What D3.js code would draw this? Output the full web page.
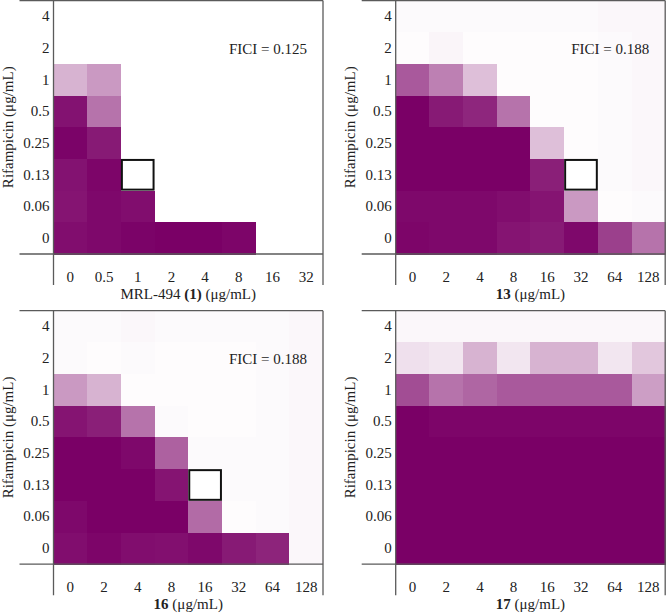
<!DOCTYPE html>
<html><head><meta charset="utf-8">
<script src="https://cdn.jsdelivr.net/npm/d3@7"></script>
<style>
body{margin:0;background:#fff;}
svg{display:block;font-family:"Liberation Serif","Times New Roman",serif;}
</style></head>
<body><svg id="c" width="666" height="614"></svg>
<script>
// Rifampicin concentrations (rows, top to bottom)
const rifLevels = ["4","2","1","0.5","0.25","0.13","0.06","0"];
// Compound concentrations (columns)
const xTicksMRL = ["0","0.5","1","2","4","8","16","32"];
const xTicksOther = ["0","2","4","8","16","32","64","128"];
// Relative growth (0 = none, 1 = full), rows top (4) to bottom (0)
const growthMRL = [
  [0,0,0,0,0,0,0,0],
  [0,0,0,0,0,0,0,0],
  [0.3,0.4,0,0,0,0,0,0],
  [0.93,0.55,0,0,0,0,0,0],
  [0.99,0.9,0,0,0,0,0,0],
  [0.93,0.98,0,0,0,0,0,0],
  [0.92,0.97,0.95,0,0,0,0,0],
  [0.95,0.97,0.99,1,1,0.98,0,0]
];
const growth13 = [
  [0.02,0.02,0.02,0.02,0.02,0.02,0.03,0.03],
  [0.01,0.04,0.01,0.01,0.01,0.01,0.02,0.03],
  [0.65,0.5,0.25,0.01,0.01,0.01,0.02,0.03],
  [1,0.9,0.85,0.55,0.01,0.01,0.02,0.03],
  [1,1,1,1,0.25,0.01,0.02,0.03],
  [1,1,1,1,0.88,0,0.02,0.03],
  [0.97,0.97,0.97,0.95,0.92,0.4,0.01,0.02],
  [0.98,0.97,0.97,0.92,0.9,0.97,0.75,0.55]
];
const growth16 = [
  [0.02,0.02,0.03,0.02,0.02,0.02,0.02,0.03],
  [0.02,0.01,0.02,0.01,0.01,0.01,0.02,0.03],
  [0.4,0.3,0.01,0.01,0.01,0.01,0.02,0.03],
  [0.92,0.88,0.55,0.02,0.01,0.01,0.02,0.03],
  [1,1,0.97,0.62,0.02,0.02,0.02,0.03],
  [1,1,1,0.92,0,0.02,0.02,0.03],
  [0.97,1,1,1,0.58,0.01,0.02,0.03],
  [0.95,0.98,0.95,0.94,0.97,0.9,0.86,0.03]
];
const growth17 = [
  [0.03,0.03,0.03,0.03,0.03,0.03,0.03,0.03],
  [0.12,0.1,0.3,0.1,0.3,0.3,0.1,0.22],
  [0.7,0.55,0.6,0.65,0.65,0.65,0.65,0.38],
  [1,0.98,0.98,0.98,0.98,0.98,0.98,0.98],
  [1,1,1,1,1,1,1,1],
  [1,1,1,1,1,1,1,1],
  [1,1,1,1,1,1,1,1],
  [1,1,1,1,1,1,1,1]
];
const ficiValues = ["0.125","0.188","0.188",null];
const compoundNames = [["MRL-494 ","(1)"," (μg/mL)"],["","13"," (μg/mL)"],["","16"," (μg/mL)"],["","17"," (μg/mL)"]];
const highlightCols = [2,5,4,null]; // highlighted cell column at rifampicin 0.13
const highlightRow = "0.13";

const panels = [
  {grid:growthMRL, ticks:xTicksMRL, left:53.5, top:0.5},
  {grid:growth13, ticks:xTicksOther, left:395.7, top:0.5},
  {grid:growth16, ticks:xTicksOther, left:53.5, top:310.7},
  {grid:growth17, ticks:xTicksOther, left:395.7, top:310.7}
];
const W = 269.5, H = 253.5;
const color = d3.scaleLinear().domain([0,1]).range(["#ffffff","#7a0066"]).interpolate(d3.interpolateRgb);
const svg = d3.select("#c");
const lineColor = "#5a5a5a";

panels.forEach((p,i)=>{
  const g = svg.append("g").attr("transform",`translate(${p.left},${p.top})`);
  const x = d3.scaleBand().domain(p.ticks).range([0,W]);
  const y = d3.scaleBand().domain(rifLevels).range([0,H]);
  const cells = [];
  p.grid.forEach((row,ri)=>row.forEach((v,ci)=>cells.push({r:rifLevels[ri],c:p.ticks[ci],v})));
  g.selectAll("rect.cell").data(cells).join("rect").attr("class","cell")
    .attr("x",d=>x(d.c)).attr("y",d=>y(d.r))
    .attr("width",x.bandwidth()+0.5).attr("height",y.bandwidth()+0.5)
    .attr("fill",d=>color(d.v)).attr("shape-rendering","crispEdges");
  if(highlightCols[i]!==null){
    const c = p.ticks[highlightCols[i]];
    g.append("rect").attr("x",x(c)+1).attr("y",y(highlightRow)+1)
      .attr("width",x.bandwidth()-2).attr("height",y.bandwidth()-2)
      .attr("fill","#fff").attr("stroke","#111").attr("stroke-width",2);
  }
  // frame lines
  const ext = 31, extL = 34;
  const lines = [
    [-extL,0,W,0],          // top
    [-extL,H,W,H],          // x axis
    [0,0,0,H+ext],          // y axis
    [W,0,W,H+ext]           // right
  ];
  g.selectAll("line.frame").data(lines).join("line").attr("class","frame")
    .attr("x1",d=>d[0]).attr("y1",d=>d[1]).attr("x2",d=>d[2]).attr("y2",d=>d[3])
    .attr("stroke",lineColor).attr("stroke-width",1.3);
  // x ticks
  const xa = g.append("g").attr("transform",`translate(0,${H})`)
    .call(d3.axisBottom(x).tickSize(0).tickPadding(17));
  xa.select(".domain").remove();
  xa.selectAll("text").attr("font-size",15).attr("font-family","Liberation Serif").attr("fill","#222");
  // y ticks
  const ya = g.append("g").call(d3.axisLeft(y).tickSize(0).tickPadding(4));
  ya.select(".domain").remove();
  ya.selectAll("text").attr("font-size",15).attr("font-family","Liberation Serif").attr("fill","#222");
  // y title
  g.append("text").attr("transform",`translate(-46,${H/2}) rotate(-90)`)
    .attr("text-anchor","middle").attr("dominant-baseline","central")
    .attr("font-size",15).attr("fill","#222").text("Rifampicin (μg/mL)");
  // x title
  const n = compoundNames[i];
  const xt = g.append("text").attr("x",W/2).attr("y",H+45).attr("text-anchor","middle")
    .attr("font-size",15).attr("fill","#222");
  xt.append("tspan").text(n[0]);
  xt.append("tspan").attr("font-weight","bold").text(n[1]);
  xt.append("tspan").text(n[2]);
  // FICI
  if(ficiValues[i]){
    g.append("text").attr("x",W-16).attr("y",53).attr("text-anchor","end")
      .attr("font-size",15).attr("fill","#222").text("FICI = "+ficiValues[i]);
  }
});
</script></body></html>
